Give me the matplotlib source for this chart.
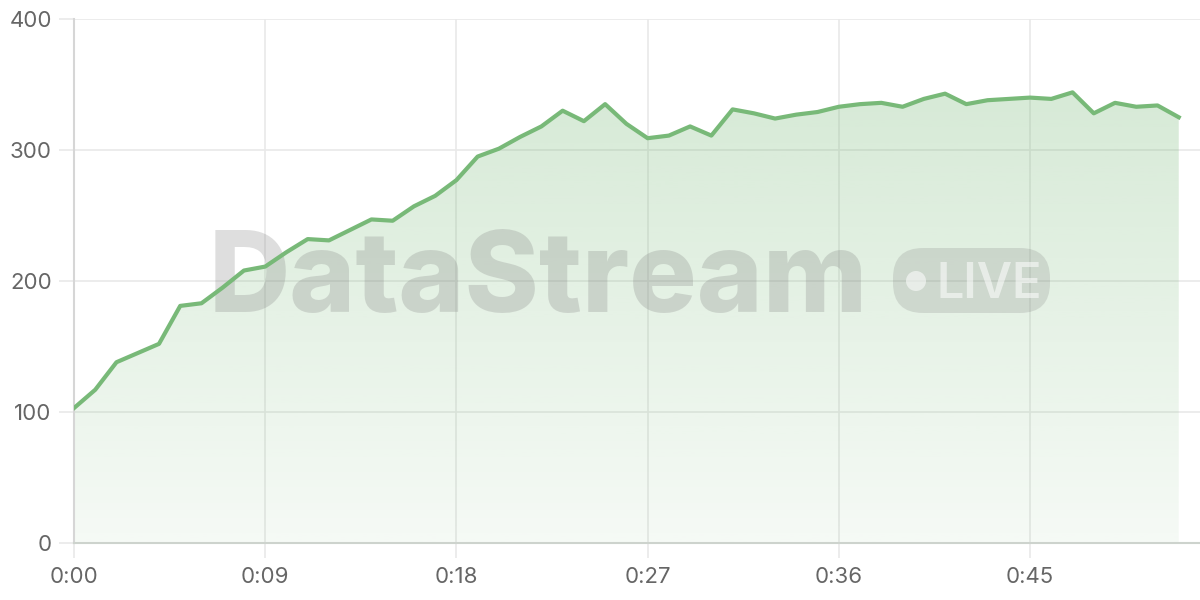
import matplotlib
matplotlib.use("Agg")
import matplotlib.pyplot as plt
import numpy as np
from matplotlib.patches import FancyBboxPatch, Ellipse
from matplotlib.ticker import FuncFormatter, MultipleLocator

# seconds since start, one sample per second
seconds = list(range(53))
values = [103, 117, 138, 145, 152, 181, 183, 195, 208, 211,
          222, 232, 231, 239, 247, 246, 257, 265, 277, 295,
          301, 310, 318, 330, 322, 335, 320, 309, 311, 318,
          311, 331, 328, 324, 327, 329, 333, 335, 336, 333,
          339, 343, 335, 338, 339, 340, 339, 344, 328, 336,
          333, 334, 325]
y_ticks = [0, 100, 200, 300, 400]

LINE = "#78b978"
GRID = "#e9e9e9"
TXT = "#666666"

plt.rcParams["font.family"] = ["Inter", "DejaVu Sans"]

fig = plt.figure(figsize=(12, 6), dpi=100)
ax = fig.add_axes([74 / 1200, 1 - 543 / 600, 1 - 74 / 1200, (543 - 19) / 600])

x = np.array(seconds)
y = np.array(values)

# gradient fill under the line
poly = ax.fill_between(x, y, 0, facecolor="none", edgecolor="none")
rgba = np.zeros((256, 1, 4))
rgba[..., :3] = matplotlib.colors.to_rgb(LINE)
rgba[:, 0, 3] = np.linspace(0.07, 0.30, 256)
img = ax.imshow(rgba, extent=[x.min(), x.max(), 0, y.max()], origin="lower",
                aspect="auto", zorder=1)
img.set_clip_path(poly.get_paths()[0], transform=ax.transData)

ax.plot(x, y, color=LINE, lw=3, zorder=4)

ax.set_xlim(0, 53)
ax.set_ylim(0, 400)
ax.set_yticks(y_ticks)
ax.xaxis.set_major_locator(MultipleLocator(9))
ax.xaxis.set_major_formatter(FuncFormatter(lambda v, p: f"{int(v) // 60}:{int(v) % 60:02d}"))

ax.grid(True, color=GRID, lw=1.2, zorder=0)
ax.set_axisbelow(True)
for s in ["top", "right"]:
    ax.spines[s].set_visible(False)
ax.spines["left"].set_color("#d6d6d6")
ax.spines["left"].set_linewidth(1.5)
ax.spines["bottom"].set_color("#cdd3cd")
ax.spines["bottom"].set_linewidth(1.5)
ax.tick_params(axis="both", length=11, width=1.2, color=GRID, labelcolor=TXT,
               labelsize=16)
ax.tick_params(axis="y", pad=5)
ax.tick_params(axis="x", pad=6)

# watermark, drawn above the fill but under the line
ft = fig.transFigure
ax.text(209 / 1200, 1 - 312 / 600, "DataStream", transform=ft, fontsize=81,
        fontweight="heavy", color="#808080", alpha=0.26, ha="left", va="baseline",
        zorder=2, clip_on=False)
pill = FancyBboxPatch((893 / 1200, 1 - 313 / 600), (1050 - 893) / 1200, (313 - 248) / 600,
                      boxstyle="round,pad=0,rounding_size=0.025", mutation_aspect=2,
                      transform=ft, facecolor="#808080", alpha=0.22,
                      edgecolor="none", zorder=2, clip_on=False)
ax.add_patch(pill)
ax.add_patch(Ellipse((916 / 1200, 1 - 281 / 600), 20 / 1200, 20 / 600, transform=ft,
                     facecolor="white", alpha=0.55, edgecolor="none", zorder=3,
                     clip_on=False))
ax.text(936 / 1200, 1 - 298 / 600, "LIVE", transform=ft, fontsize=35,
        fontweight="semibold", color="white", alpha=0.55, ha="left",
        va="baseline", zorder=3, clip_on=False)

fig.savefig("out.png", dpi=100)
